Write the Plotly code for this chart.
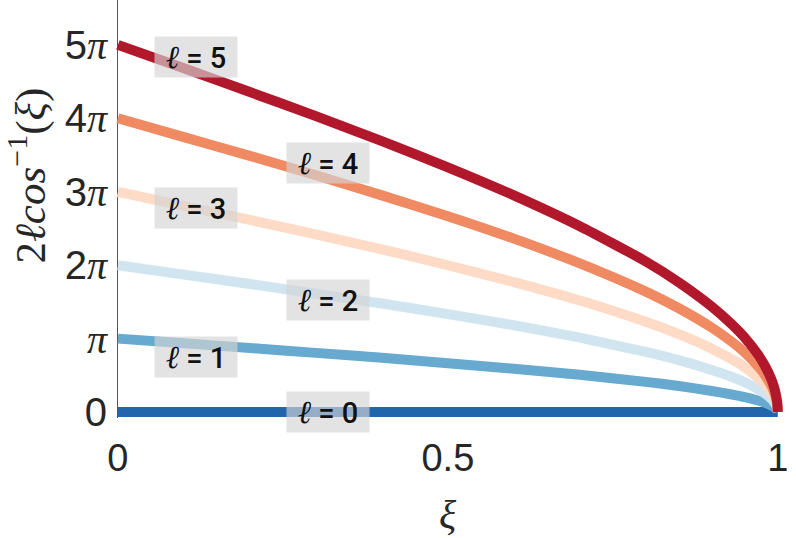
import plotly.graph_objects as go

# ---- data ----
xi = [0, 0.1, 0.2, 0.3, 0.4, 0.5, 0.6, 0.7, 0.8, 0.85, 0.9, 0.93, 0.95, 0.97, 0.98, 0.99, 0.995, 0.999, 1]

ell_labels = ["0", "1", "2", "3", "4", "5"]
y_l0 = [0] * 19
y_l1 = [3.14, 2.94, 2.74, 2.53, 2.32, 2.09, 1.85, 1.59, 1.29, 1.11, 0.90, 0.75, 0.64, 0.49, 0.40, 0.28, 0.20, 0.09, 0]
y_l2 = [6.28, 5.88, 5.48, 5.06, 4.64, 4.19, 3.71, 3.18, 2.57, 2.22, 1.80, 1.51, 1.27, 0.98, 0.80, 0.57, 0.40, 0.18, 0]
y_l3 = [9.42, 8.82, 8.22, 7.60, 6.96, 6.28, 5.56, 4.77, 3.86, 3.33, 2.71, 2.26, 1.91, 1.47, 1.20, 0.85, 0.60, 0.27, 0]
y_l4 = [12.57, 11.76, 10.96, 10.13, 9.27, 8.38, 7.42, 6.36, 5.15, 4.44, 3.61, 3.01, 2.54, 1.96, 1.60, 1.13, 0.80, 0.36, 0]
y_l5 = [15.71, 14.71, 13.69, 12.66, 11.59, 10.47, 9.27, 7.95, 6.44, 5.55, 4.51, 3.76, 3.18, 2.46, 2.00, 1.42, 1.00, 0.45, 0]
series = [y_l0, y_l1, y_l2, y_l3, y_l4, y_l5]

colors = ["#2166ac", "#67a9cf", "#d1e5f0", "#fddbc7", "#ef8a62", "#b2182b"]

# label positions (data coords)
label_x = [0.319, 0.119, 0.319, 0.119, 0.319, 0.119]
label_y = [0.0, 2.35, 4.79, 8.73, 10.66, 15.2]

ytick_vals = [0, 3.1416, 6.2832, 9.4248, 12.566, 15.708]
ytick_text = ["0", "π", "2π", "3π", "4π", "5π"]
xtick_vals = [0, 0.5, 1]
xtick_text = ["0", "0.5", "1"]

SERIF = "Liberation Serif"
PI = "<span style='font-family:%s'><i>π</i></span>" % SERIF


def fmt_tick(t):
    return t.replace("π", PI)


fig = go.Figure()
for lab, ys, c in zip(ell_labels, series, colors):
    fig.add_trace(go.Scatter(x=xi, y=ys, mode="lines", name="ℓ = " + lab,
                             line=dict(color=c, width=10, shape="spline", smoothing=0.6),
                             cliponaxis=False, showlegend=False, hoverinfo="skip"))

for lab, lx, ly in zip(ell_labels, label_x, label_y):
    fig.add_annotation(
        x=lx, y=ly, xref="x", yref="y", showarrow=False,
        text="<span style='font-family:DejaVu Serif;font-size:32px'><i>ℓ</i></span> = %s" % lab,
        font=dict(family="Roboto", size=29, color="#111111", weight=500),
        bgcolor="rgba(212,212,212,0.65)", width=80, height=38,
        xanchor="center", yanchor="middle",
    )

# axis titles
fig.add_annotation(
    xref="paper", yref="paper", x=-0.121, y=0.579, showarrow=False, textangle=-90,
    text="2<i>ℓcos</i><sup>−1</sup>(<i>ξ</i>)",
    font=dict(family=SERIF, size=43, color="#262626"),
    xanchor="center", yanchor="middle",
)
fig.add_annotation(
    xref="x", yref="paper", x=0.5, y=-0.232, showarrow=False,
    text="<i>ξ</i>", font=dict(family=SERIF, size=40, color="#262626"),
    xanchor="center", yanchor="middle",
)

fig.update_layout(
    template="none",
    width=796, height=538,
    margin=dict(l=110, r=5, t=0, b=120, autoexpand=False),
    paper_bgcolor="white", plot_bgcolor="white",
    xaxis=dict(range=[-0.012, 1.02], tickvals=xtick_vals, ticktext=xtick_text,
               automargin=False,
               showgrid=False, zeroline=True, zerolinecolor="#555555", zerolinewidth=1,
               showline=False, ticks="", ticklabelstandoff=14,
               tickfont=dict(family="Liberation Sans", size=38, color="#262626")),
    yaxis=dict(range=[-0.257, 17.63], tickvals=ytick_vals,
               ticktext=[fmt_tick(t) for t in ytick_text],
               automargin=False,
               showgrid=False, zeroline=False, showline=False, ticks="",
               ticklabelstandoff=2,
               tickfont=dict(family="Liberation Sans", size=40, color="#262626")),
)

fig.write_html("out.html", config={"displayModeBar": False},
               post_script="document.body.style.margin='0';document.body.style.overflow='hidden';")
